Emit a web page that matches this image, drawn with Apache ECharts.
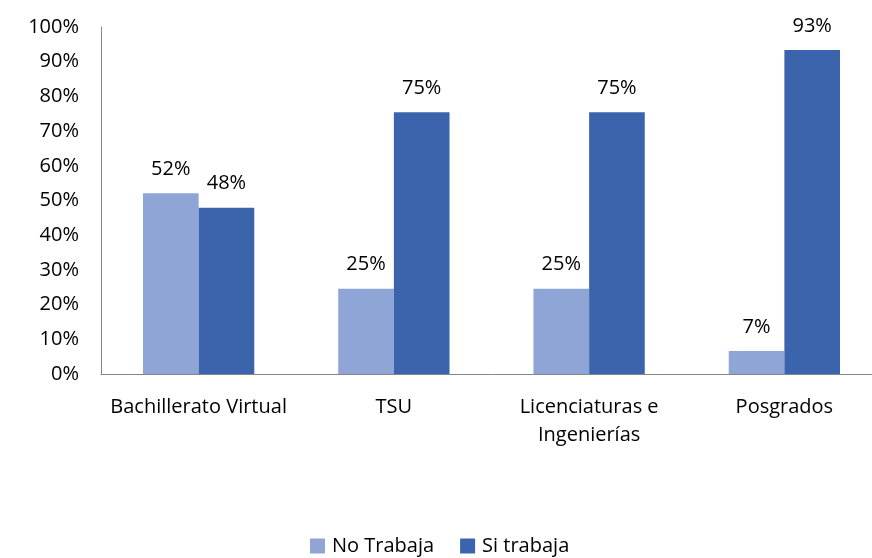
<!DOCTYPE html>
<html>
<head>
<meta charset="utf-8">
<script src="https://cdn.jsdelivr.net/npm/echarts@6/dist/echarts.min.js"></script>
<style>
html,body{margin:0;padding:0;background:#fff;overflow:hidden;width:872px;height:558px;}
#chart{width:882px;height:558px;}
</style>
</head>
<body>
<div id="chart"></div>
<script>
var categories=['Bachillerato Virtual','TSU','Licenciaturas e\nIngenierías','Posgrados'];
var noTrabaja=[52.1,24.6,24.6,6.6];
var siTrabaja=[47.9,75.4,75.4,93.4];
var seriesNames=['No Trabaja','Si trabaja'];

var font='Open Sans';
// el grafico original esta recortado a la derecha, por eso el div es mas ancho
var myChart=echarts.init(document.getElementById('chart'));
var labelOpt={
	show:true,
	position:'top',
	distance:14,
	color:'#000',
	fontFamily:font,
	fontSize:20,
	formatter:function(p){return Math.round(p.value)+'%';}
};
var option={
	animation:false,
	grid:{left:101,right:0,top:27,height:347,containLabel:false},
	legend:{
		data:seriesNames,
		top:531,
		left:305,
		itemWidth:15,
		itemHeight:15,
		itemGap:26,
		icon:'rect',
		textStyle:{fontFamily:font,fontSize:20,color:'#000',padding:[0,0,0,2]}
	},
	xAxis:{
		type:'category',
		data:categories,
		axisLine:{lineStyle:{color:'#868686'}},
		axisTick:{show:false},
		axisLabel:{fontFamily:font,fontSize:20,color:'#000',margin:19,lineHeight:28,interval:0}
	},
	yAxis:{
		type:'value',
		min:0,
		max:100,
		interval:10,
		splitLine:{show:false},
		axisLine:{show:true,lineStyle:{color:'#868686'}},
		axisTick:{show:false},
		axisLabel:{fontFamily:font,fontSize:20,color:'#000',margin:22,formatter:'{value}%'}
	},
	series:[{
		name:seriesNames[0],
		type:'bar',
		data:noTrabaja,
		barGap:'0%',
		barCategoryGap:'43%',
		itemStyle:{color:'#8FA5D5'},
		label:labelOpt
	},{
		name:seriesNames[1],
		type:'bar',
		data:siTrabaja,
		barGap:'0%',
		barCategoryGap:'43%',
		itemStyle:{color:'#3C64AD'},
		label:labelOpt
	}]
};
myChart.setOption(option);
</script>
</body>
</html>
